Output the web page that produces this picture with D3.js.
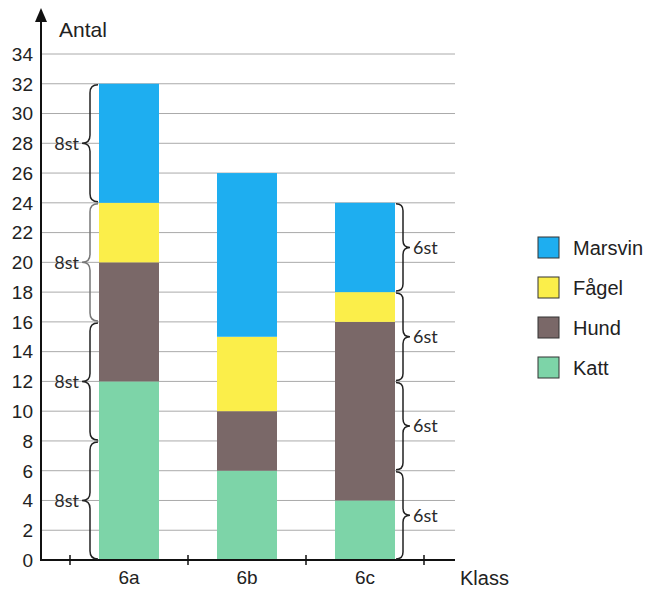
<!DOCTYPE html>
<html>
<head>
<meta charset="utf-8">
<script src="https://cdn.jsdelivr.net/npm/d3@7"></script>
<style>
  body { margin: 0; background: #fff; }
  text { font-family: "Liberation Sans", Arial, sans-serif; fill: #222; }
  .hand { font-family: "Lato", "DejaVu Sans", sans-serif; font-weight: 400; fill: #2a2a2a; }
</style>
</head>
<body>
<div id="chart"></div>
<script>
// data
const classes = ["6a", "6b", "6c"];
const species = ["Katt", "Hund", "Fågel", "Marsvin"];
const katt = [12, 6, 4];
const hund = [8, 4, 12];
const fagel = [4, 5, 2];
const marsvin = [8, 11, 6];
const yTicks = d3.range(0, 35, 2);

// handwritten brace notes: [from, to]
const braces6a = [[24, 32], [16, 24], [8, 16], [0, 8]];
const braceLabel6a = "8st";
const braces6c = [[18, 24], [12, 18], [6, 12], [0, 6]];
const braceLabel6c = "6st";

const colors = {"Katt": "#7dd4a8", "Hund": "#7a6868", "Fågel": "#fbee4a", "Marsvin": "#1eaef0"};

const width = 648, height = 590;
const svg = d3.select("#chart").append("svg")
    .attr("width", width)
    .attr("height", height);

// scales
const x = d3.scaleBand()
    .domain(classes)
    .range([70, 424])
    .padding(0);

const y = d3.scaleLinear()
    .domain([0, 34])
    .range([560, 54]);

const axisX = 41;
const barW = 60;

// grid lines
svg.append("g").selectAll("line")
    .data(yTicks.filter(d => d > 0))
    .enter().append("line")
    .attr("x1", axisX)
    .attr("x2", 455)
    .attr("y1", d => y(d))
    .attr("y2", d => y(d))
    .attr("stroke", "#aaaaaa")
    .attr("stroke-width", 1);

// y tick labels
svg.append("g").selectAll("text")
    .data(yTicks)
    .enter().append("text")
    .attr("x", 33)
    .attr("y", d => y(d))
    .attr("dy", "0.36em")
    .attr("text-anchor", "end")
    .attr("font-size", 19)
    .text(d => d);

// stacked bars
const rows = classes.map((c, i) => ({klass: c, "Katt": katt[i], "Hund": hund[i], "Fågel": fagel[i], "Marsvin": marsvin[i]}));
const stacked = d3.stack().keys(species)(rows);

svg.append("g").selectAll("g")
    .data(stacked)
    .enter().append("g")
    .attr("fill", d => colors[d.key])
    .selectAll("rect")
    .data(d => d)
    .enter().append("rect")
    .attr("x", d => x(d.data.klass) + x.bandwidth() / 2 - barW / 2)
    .attr("width", barW)
    .attr("y", d => y(d[1]))
    .attr("height", d => y(d[0]) - y(d[1]));

// axes
svg.append("line")
    .attr("x1", axisX).attr("x2", axisX)
    .attr("y1", 20).attr("y2", 561)
    .attr("stroke", "#111").attr("stroke-width", 2);

svg.append("path")
    .attr("d", `M${axisX},8 L${axisX - 6},22 L${axisX + 6},22 Z`)
    .attr("fill", "#111");

svg.append("line")
    .attr("x1", axisX - 1).attr("x2", 455)
    .attr("y1", y(0)).attr("y2", y(0))
    .attr("stroke", "#111").attr("stroke-width", 2);

// x ticks at band edges
const edges = classes.map(c => x(c)).concat([x(classes[classes.length - 1]) + x.bandwidth()]);
svg.append("g").selectAll("line")
    .data(edges)
    .enter().append("line")
    .attr("x1", d => d).attr("x2", d => d)
    .attr("y1", y(0) - 5).attr("y2", y(0) + 5)
    .attr("stroke", "#111").attr("stroke-width", 1.5);

svg.append("g").selectAll("text")
    .data(classes)
    .enter().append("text")
    .attr("x", d => x(d) + x.bandwidth() / 2)
    .attr("y", 584)
    .attr("text-anchor", "middle")
    .attr("font-size", 19)
    .text(d => d);

svg.append("text")
    .attr("x", 460).attr("y", 585)
    .attr("font-size", 20)
    .text("Klass");

svg.append("text")
    .attr("x", 59).attr("y", 37)
    .attr("font-size", 21)
    .text("Antal");

// legend
const legend = svg.append("g").selectAll("g")
    .data(species.slice().reverse())
    .enter().append("g")
    .attr("transform", (d, i) => `translate(538, ${237 + i * 40})`);

legend.append("rect")
    .attr("width", 21).attr("height", 21)
    .attr("fill", d => colors[d])
    .attr("stroke", "#333").attr("stroke-width", 1);

legend.append("text")
    .attr("x", 35).attr("y", 11)
    .attr("dy", "0.36em")
    .attr("font-size", 20)
    .text(d => d);

// curly braces
function bracePath(sx, y1, y2, t, w) {
    const ym = (y1 + y2) / 2;
    return `M${sx - t * w},${y1} Q${sx},${y1} ${sx},${y1 + w}` +
        ` L${sx},${ym - w} Q${sx},${ym} ${sx + t * w},${ym}` +
        ` Q${sx},${ym} ${sx},${ym + w}` +
        ` L${sx},${y2 - w} Q${sx},${y2} ${sx - t * w},${y2}`;
}

const left6a = x("6a") + x.bandwidth() / 2 - barW / 2;
svg.append("g").selectAll("path")
    .data(braces6a)
    .enter().append("path")
    .attr("d", d => bracePath(left6a - 9, y(d[1]) + 1, y(d[0]) - 1, -1, 8))
    .attr("fill", "none")
    .attr("stroke", (d, i) => i === 1 ? "#777" : "#222")
    .attr("stroke-width", 1.5);

svg.append("g").selectAll("text")
    .data(braces6a)
    .enter().append("text")
    .attr("class", "hand")
    .attr("x", left6a - 20)
    .attr("y", d => y((d[0] + d[1]) / 2))
    .attr("dy", "0.35em")
    .attr("text-anchor", "end")
    .attr("font-size", 18)
    .text(braceLabel6a);

const right6c = x("6c") + x.bandwidth() / 2 + barW / 2;
svg.append("g").selectAll("path")
    .data(braces6c)
    .enter().append("path")
    .attr("d", d => bracePath(right6c + 8, y(d[1]) + 1, y(d[0]) - 1, 1, 7))
    .attr("fill", "none")
    .attr("stroke", "#222")
    .attr("stroke-width", 1.5);

svg.append("g").selectAll("text")
    .data(braces6c)
    .enter().append("text")
    .attr("class", "hand")
    .attr("x", right6c + 18)
    .attr("y", d => y((d[0] + d[1]) / 2))
    .attr("dy", "0.35em")
    .attr("font-size", 18)
    .text(braceLabel6c);
</script>
</body>
</html>
